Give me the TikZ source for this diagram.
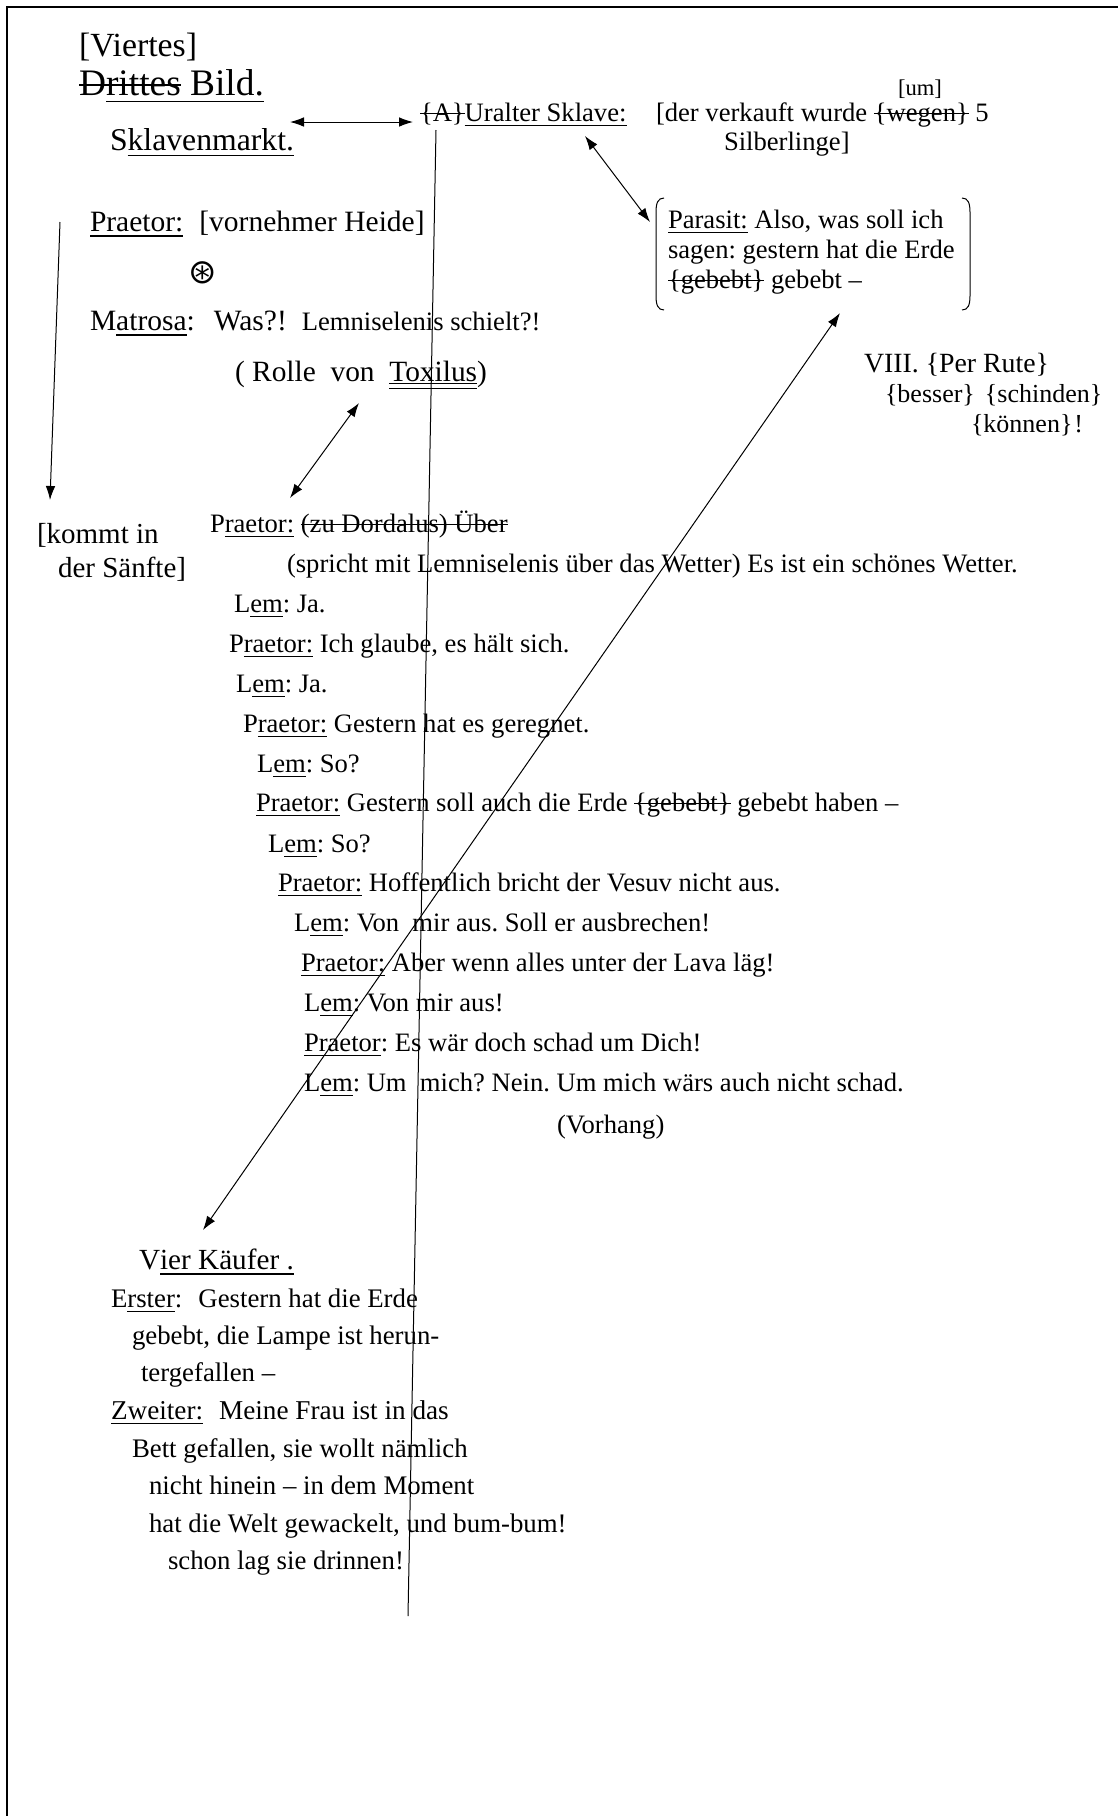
\documentclass[tikz,border=0pt]{standalone}
\usepackage{fontspec}
\setmainfont{Liberation Serif}
\newfontfamily\dejavu{DejaVu Sans}
\usetikzlibrary{arrows.meta,calc}
\frenchspacing
\newcommand{\fsz}[1]{\fontsize{#1}{#1}\selectfont}
\newcommand{\uln}[1]{\setbox0\hbox{#1}\rlap{\rule[-0.2em]{\wd0}{0.8pt}}\box0\relax}
\newcommand{\strk}[1]{\setbox0\hbox{#1}\rlap{\rule[0.25em]{\wd0}{0.7pt}}\box0\relax}
\newcommand{\uuln}[1]{\setbox0\hbox{#1}\rlap{\rule[-0.1em]{\wd0}{0.5pt}}\rlap{\rule[-0.27em]{\wd0}{0.5pt}}\box0\relax}
\begin{document}
\begin{tikzpicture}[x=0.5pt,y=-0.5pt,
  txt/.style={anchor=base west,inner sep=0pt,outer sep=0pt,font=\frenchspacing\fsz{13.3}},
  conn/.style={line width=0.5pt},
  arr/.style={conn,-{Latex[length=7pt,width=4.8pt]}},
  darr/.style={conn,{Latex[length=7pt,width=4.8pt]}-{Latex[length=7pt,width=4.8pt]}}]
\useasboundingbox (0,0) rectangle (1118,1816);
% page frame
\draw[line width=0.9pt] (1118,7) -- (7,7) -- (7,1816);

% title
\node[txt,font=\fsz{16.9}] (viertes) at (79,56) {[Viertes]};
\node[txt,font=\fsz{18.7}] (drittes) at (79,95) {\strk{D\uln{rittes}}\uln{\ Bild.}};
\node[txt,font=\fsz{15.85}] (skm) at (110,150) {S\uln{klavenmarkt.}};

% Uralter Sklave
\node[txt] (sklave) at (420,121) {\strk{\{A\}}\uln{Uralter Sklave:}};
\node[txt,font=\fsz{11.3}] (um) at (898,95) {[um]};
\node[txt] (verkauft) at (656,121) {[der verkauft wurde \strk{\{wegen\}} 5};
\node[txt] (silber) at (724,150) {Silberlinge]};

% Parasit block
\node[inner sep=0pt,outer sep=0pt,minimum width=157pt,minimum height=56pt] (pbox) at (813,254) {};
\node[txt] (par1) at (668,228) {\uln{Parasit:} Also, was soll ich};
\node[txt] (par2) at (668,258) {sagen: gestern hat die Erde};
\node[txt] (par3) at (668,288) {\strk{\{gebebt\}} gebebt –};
\draw[conn] ($(pbox.north west)+(8,0)$) .. controls ($(pbox.north west)+(2,0)$) and ($(pbox.north west)+(0,5)$) .. ($(pbox.north west)+(0,14)$)
  -- ($(pbox.south west)+(0,-14)$) .. controls ($(pbox.south west)+(0,-5)$) and ($(pbox.south west)+(2,0)$) .. ($(pbox.south west)+(8,0)$);
\draw[conn] ($(pbox.north east)+(-8,0)$) .. controls ($(pbox.north east)+(-2,0)$) and ($(pbox.north east)+(0,5)$) .. ($(pbox.north east)+(0,14)$)
  -- ($(pbox.south east)+(0,-14)$) .. controls ($(pbox.south east)+(0,-5)$) and ($(pbox.south east)+(-2,0)$) .. ($(pbox.south east)+(-8,0)$);

% VIII
\node[txt,font=\fsz{13.9}] (viii) at (864,372) {VIII. \{Per Rute\}};
\node[txt,font=\fsz{13}] (besser) at (885,402) {\{besser\}\hspace{5pt}\{schinden\}};
\node[txt,font=\fsz{13}] (koennen) at (971,432) {\{können\}\kern1pt!};

% Praetor / Matrosa
\node[txt,font=\fsz{14.75}] (praetor0) at (90,231) {\uln{Praetor:}\hspace{8pt}[vornehmer Heide]};
\node[inner sep=0pt,outer sep=0pt,font=\dejavu\fsz{17}] (star) at (203,273) {⊛};
\node[txt,font=\fsz{14.75}] (matrosa) at (90,330) {M\uln{atrosa}:\hspace{9.5pt}Was?!\hspace{7.5pt}{\fsz{13.3}Lemniselenis schielt?!}};
\node[txt,font=\fsz{14.7}] (rolle) at (235,381) {(\ Rolle\ \ von\ \ \uuln{Toxilus})};

\node[txt,font=\fsz{14.5}] (kommt) at (37,543) {[kommt in};
\node[txt,font=\fsz{14.5}] (saenfte) at (58,577) {der Sänfte]};

% dialogue
\node[txt] (pA) at (210,532) {P\uln{raetor:} \strk{(zu Dordalus) Über}};
\node[txt] (spricht) at (287,572) {(spricht mit Lemniselenis über das Wetter) Es ist ein schönes Wetter.};
\node[txt] (lA) at (234,612) {L\uln{em}: Ja.};
\node[txt] (pB) at (229,652) {P\uln{raetor:} Ich glaube, es hält sich.};
\node[txt] (lB) at (236,692) {L\uln{em}: Ja.};
\node[txt] (pC) at (243,732) {P\uln{raetor:} Gestern hat es geregnet.};
\node[txt] (lC) at (257,772) {L\uln{em}: So?};
\node[txt] (pD) at (256,811) {\uln{Praetor:} Gestern soll auch die Erde \strk{\{gebebt\}} gebebt haben –};
\node[txt] (lD) at (268,852) {L\uln{em}: So?};
\node[txt] (pE) at (278,891) {\uln{Praetor:} Hoffentlich bricht der Vesuv nicht aus.};
\node[txt] (lE) at (294,931) {L\uln{em}: Von\ \ mir aus. Soll er ausbrechen!};
\node[txt] (pF) at (301,971) {\uln{Praetor:} Aber wenn alles unter der Lava läg!};
\node[txt] (lF) at (304,1011) {L\uln{em}: Von mir aus!};
\node[txt] (pG) at (304,1051) {\uln{Praetor}: Es wär doch schad um Dich!};
\node[txt] (lG) at (304,1091) {L\uln{em}: Um\ \ mich? Nein. Um mich wärs auch nicht schad.};
\node[txt] (vorhang) at (557,1133) {(Vorhang)};

% Vier Kaeufer
\node[txt,font=\fsz{14.6}] (vier) at (139,1269) {V\uln{ier Käufer .}};
\node[txt,font=\fsz{13.4}] (e1) at (111,1307) {E\uln{rster}:\hspace{8pt}Gestern hat die Erde};
\node[txt,font=\fsz{13.4}] (e2) at (132,1344) {gebebt, die Lampe ist herun-};
\node[txt,font=\fsz{13.4}] (e3) at (141,1381) {tergefallen –};
\node[txt,font=\fsz{13.6}] (z1) at (111,1419) {\uln{Zweiter:}\hspace{8pt}Meine Frau ist in das};
\node[txt,font=\fsz{13.4}] (z2) at (132,1457) {Bett gefallen, sie wollt nämlich};
\node[txt,font=\fsz{13.4}] (z3) at (149,1494) {nicht hinein – in dem Moment};
\node[txt,font=\fsz{13.4}] (z4) at (149,1532) {hat die Welt gewackelt, und bum-bum!};
\node[txt,font=\fsz{13.4}] (z5) at (168,1569) {schon lag sie drinnen!};

% connectors
\coordinate (kstart) at (60,222);
\coordinate (vend) at (408,1616);
\draw[darr] ($(skm.base west)+(180,-28)$) -- ($(sklave.base west)+(-7,1)$);
\draw[darr] ($(sklave.base west)+(165,15)$) -- ($(pbox.north west)+(-6,24)$);
\draw[darr] ($(pbox.south west)+(184,3)$) -- ($(vier.base west)+(64,-39)$);
\draw[darr] ($(rolle.base west)+(124,22)$) -- ($(pA.base west)+(80,-34)$);
\draw[arr] (kstart) -- ($(kommt.base west)+(13,-43)$);
\draw[conn] ($(sklave.base west)+(16,9)$) -- (vend);
\end{tikzpicture}
\end{document}
